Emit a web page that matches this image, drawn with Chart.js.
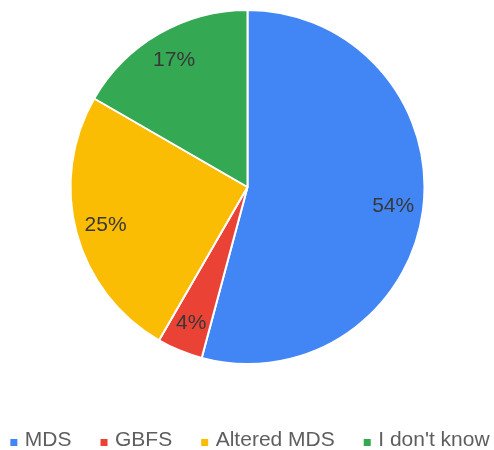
<!DOCTYPE html>
<html>
<head>
<meta charset="utf-8">
<script src="https://cdn.jsdelivr.net/npm/chart.js@4/dist/chart.umd.min.js"></script>
<style>
  html, body { margin: 0; padding: 0; background: #fff; }
  #wrap { width: 494px; height: 450px; }
</style>
</head>
<body>
<div id="wrap"><canvas id="pie"></canvas></div>
<script>
const categories = ["MDS", "GBFS", "Altered MDS", "I don't know"];
const responses = [13, 1, 6, 4];
const sliceColors = ["#4285f4", "#ea4335", "#fbbc04", "#34a853"];

const FONT = "21px 'Liberation Sans', Arial, sans-serif";

// percent labels inside each slice, placed along the middle angle
const sliceLabels = {
  id: "sliceLabels",
  afterDatasetsDraw(chart) {
    const ctx = chart.ctx;
    const meta = chart.getDatasetMeta(0);
    const total = responses.reduce((s, v) => s + v, 0);
    ctx.save();
    ctx.font = FONT;
    ctx.fillStyle = "#383838";
    ctx.textAlign = "center";
    ctx.textBaseline = "middle";
    meta.data.forEach((arc, i) => {
      const { x, y, startAngle, endAngle, outerRadius } = arc.getProps(["x", "y", "startAngle", "endAngle", "outerRadius"], true);
      const mid = (startAngle + endAngle) / 2;
      const r = outerRadius * 0.83;
      const pct = Math.round(responses[i] / total * 100) + "%";
      ctx.fillText(pct, x + Math.cos(mid) * r, y + Math.sin(mid) * r);
    });
    ctx.restore();
  }
};

// one-row legend under the pie (built-in legend ties row gap to vertical padding)
const bottomLegend = {
  id: "bottomLegend",
  afterDraw(chart) {
    const ctx = chart.ctx;
    const box = 7, textGap = 14.5, itemGap = 29;
    const y = chart.chartArea.bottom + 77;
    ctx.save();
    ctx.font = FONT;
    ctx.textBaseline = "middle";
    ctx.textAlign = "left";
    const widths = categories.map(c => ctx.measureText(c).width);
    const full = widths.reduce((s, w) => s + w + textGap, 0) + itemGap * (categories.length - 1);
    let x = chart.width / 2 + 3 - full / 2;
    categories.forEach((c, i) => {
      ctx.fillStyle = sliceColors[i];
      ctx.fillRect(x, y - 1, box, box);
      ctx.fillStyle = "#5e5e5e";
      ctx.fillText(c, x + textGap, y);
      x += textGap + widths[i] + itemGap;
    });
    ctx.restore();
  }
};

new Chart(document.getElementById("pie"), {
  type: "pie",
  data: {
    labels: categories,
    datasets: [{
      data: responses,
      backgroundColor: sliceColors,
      borderColor: "#ffffff",
      borderWidth: 2,
      radius: 177
    }]
  },
  options: {
    responsive: true,
    maintainAspectRatio: false,
    animation: false,
    layout: { padding: { top: 11, bottom: 87, left: 1, right: 0 } },
    plugins: {
      tooltip: { enabled: false },
      legend: { display: false }
    }
  },
  plugins: [sliceLabels, bottomLegend]
});
</script>
</body>
</html>
